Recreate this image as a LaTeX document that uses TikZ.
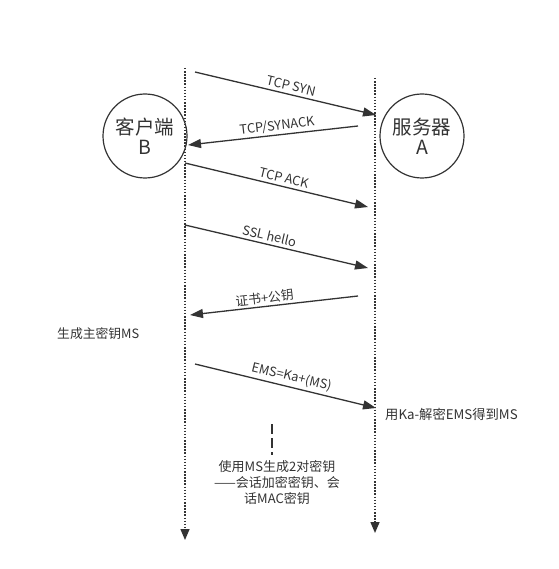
\documentclass[tikz,border=0pt]{standalone}
\usepackage{fontspec}
\setmainfont{Noto Sans CJK SC}
\usetikzlibrary{arrows.meta}
\definecolor{ink}{HTML}{333333}
\begin{document}
\begin{tikzpicture}[x=1pt,y=-1pt,
  lifeline/.style={draw=ink,line width=1.5pt,dash pattern=on 1.5pt off 1.6pt,-{Triangle[length=11pt,width=9pt]}},
  msg/.style={draw=ink,line width=1.3pt,-{Triangle[length=13pt,width=9pt]}},
  lbl/.style={font=\fontsize{12.8}{14}\selectfont,text=ink,inner sep=1pt},
  party/.style={draw=ink,line width=1.2pt,circle,minimum size=84pt,inner sep=0pt,align=center,font=\fontsize{19.5}{23}\selectfont,text=ink},
  note/.style={font=\fontsize{12.8}{14}\selectfont,text=ink,inner sep=0pt}]
\useasboundingbox (0,0) rectangle (558,569);
% participants
\node[party] (B) at (145,136) {客户端\\[-3pt]B};
\node[party] (A) at (422,136) {服务器\\[-3pt]A};
% lifelines
\coordinate (cT) at (185,68);
\coordinate (cE) at (185,540);
\coordinate (sT) at (375,78);
\coordinate (sE) at (375,533);
\draw[lifeline] (cT) -- (cE);
\draw[lifeline] (sT) -- (sE);
% messages
\coordinate (m1s) at (195,72);  \coordinate (m1e) at (376,115);
\coordinate (m2s) at (358,126); \coordinate (m2e) at (188,145);
\coordinate (m3s) at (185,163); \coordinate (m3e) at (368,207);
\coordinate (m4s) at (185,225); \coordinate (m4e) at (368,268);
\coordinate (m5s) at (358,296); \coordinate (m5e) at (190,315);
\coordinate (m6s) at (195,364); \coordinate (m6e) at (376,408);
\draw[msg] (m1s) -- node[lbl,sloped,above=2pt,pos=0.52] (l1) {TCP SYN} (m1e);
\draw[msg] (m2s) -- node[lbl,sloped,above=1pt,pos=0.47] (l2) {TCP/SYNACK} (m2e);
\draw[msg] (m3s) -- node[lbl,sloped,above=2pt,pos=0.53] (l3) {TCP ACK} (m3e);
\draw[msg] (m4s) -- node[lbl,sloped,above=2pt,pos=0.45] (l4) {SSL hello} (m4e);
\draw[msg] (m5s) -- node[lbl,sloped,above=1pt,pos=0.55] (l5) {证书+公钥} (m5e);
\draw[msg] (m6s) -- node[lbl,sloped,above=2pt,pos=0.52] (l6) {EMS=Ka+(MS)} (m6e);
% notes
\node[note,anchor=west] (n1) at (57,334) {生成主密钥MS};
\node[note,anchor=west,font=\fontsize{13.3}{15}\selectfont] (n2) at (385,414) {用Ka-解密EMS得到MS};
\coordinate (dT) at (272,424);
\coordinate (dE) at (272,455);
\draw[draw=ink,line width=2pt,dash pattern=on 10pt off 4pt] (dT) -- (dE);
\node[note,align=center,font=\fontsize{13}{16}\selectfont] (n3) at (277,483) {使用MS生成2对密钥\\——会话加密密钥、会\\话MAC密钥};
\end{tikzpicture}
\end{document}
